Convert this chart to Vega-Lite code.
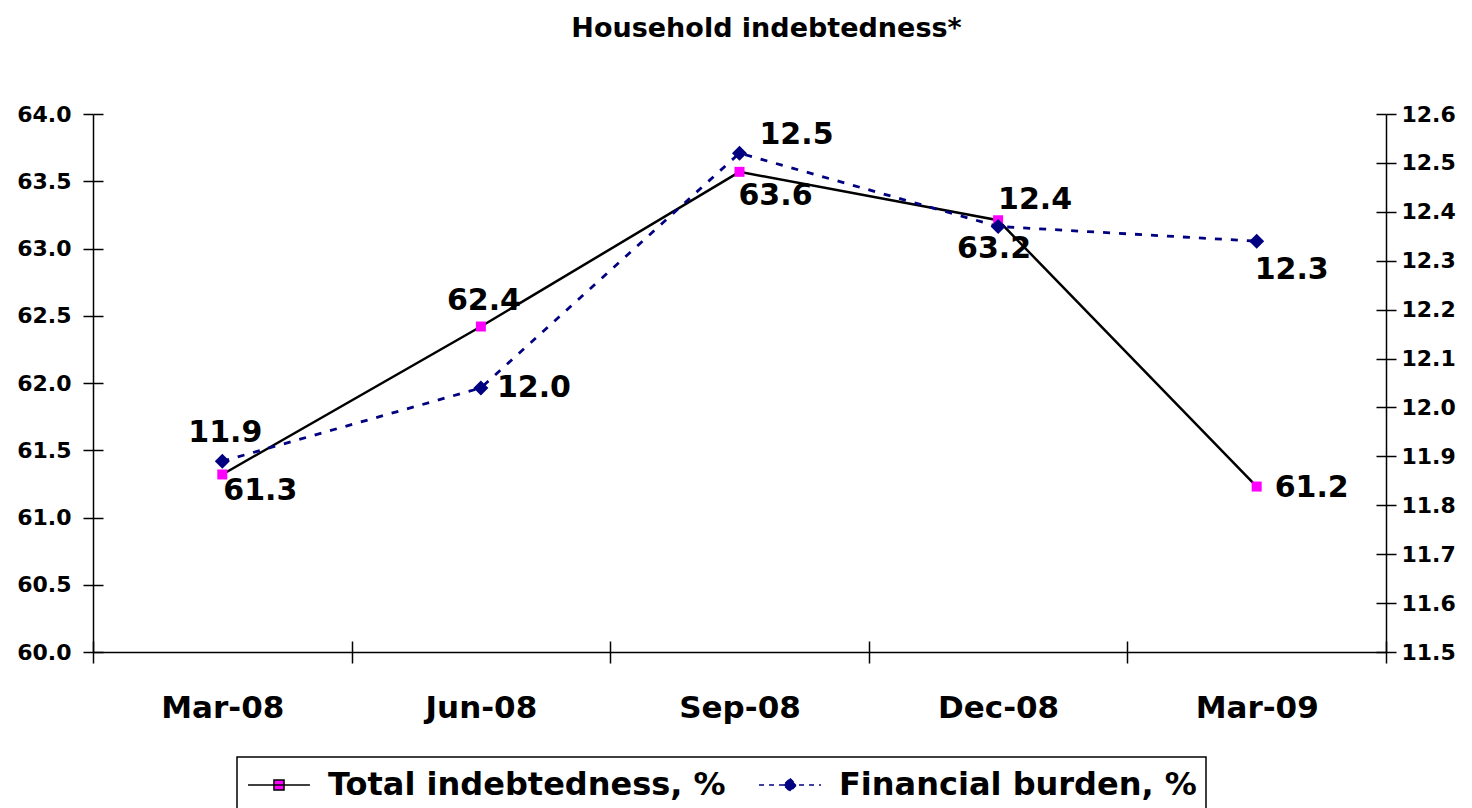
{
  "$schema": "https://vega.github.io/schema/vega-lite/v6.json",
  "width": 1293,
  "height": 538,
  "autosize": {"type": "none"},
  "padding": {"left": 93, "top": 114, "right": 86, "bottom": 156},
  "background": "white",
  "config": {
    "font": "DejaVu Sans",
    "view": {"stroke": null},
    "axis": {
      "grid": false,
      "domainColor": "black",
      "tickColor": "black",
      "labelColor": "black",
      "labelFont": "DejaVu Sans",
      "labelFontWeight": "bold",
      "domainWidth": 1.5,
      "tickWidth": 1.5
    },
    "text": {"font": "DejaVu Sans", "fontSize": 30, "fontWeight": "bold", "baseline": "middle", "color": "black"}
  },
  "title": {
    "text": "Household indebtedness*",
    "font": "DejaVu Sans",
    "fontSize": 27,
    "fontWeight": "bold",
    "color": "black",
    "anchor": "middle",
    "frame": "group",
    "baseline": "alphabetic",
    "dx": 27,
    "offset": 39
  },
  "data": {
    "values": [
      {"quarter": "Mar-08", "series": "Total indebtedness, %", "value": 61.32},
      {"quarter": "Jun-08", "series": "Total indebtedness, %", "value": 62.42},
      {"quarter": "Sep-08", "series": "Total indebtedness, %", "value": 63.57},
      {"quarter": "Dec-08", "series": "Total indebtedness, %", "value": 63.21},
      {"quarter": "Mar-09", "series": "Total indebtedness, %", "value": 61.23},
      {"quarter": "Mar-08", "series": "Financial burden, %", "value": 11.89},
      {"quarter": "Jun-08", "series": "Financial burden, %", "value": 12.04},
      {"quarter": "Sep-08", "series": "Financial burden, %", "value": 12.52},
      {"quarter": "Dec-08", "series": "Financial burden, %", "value": 12.37},
      {"quarter": "Mar-09", "series": "Financial burden, %", "value": 12.34}
    ]
  },
  "encoding": {
    "x": {
      "field": "quarter",
      "type": "ordinal",
      "sort": ["Mar-08", "Jun-08", "Sep-08", "Dec-08", "Mar-09"],
      "bandPosition": 0.5,
      "scale": {"type": "band", "paddingInner": 0, "paddingOuter": 0},
      "axis": null
    }
  },
  "layer": [
    {
      "transform": [{"filter": "datum.series === 'Total indebtedness, %'"}],
      "mark": {"type": "line", "strokeWidth": 2.5},
      "encoding": {
        "x": {
          "field": "quarter",
          "type": "ordinal",
          "sort": ["Mar-08", "Jun-08", "Sep-08", "Dec-08", "Mar-09"],
          "bandPosition": 0.5,
          "scale": {"type": "band", "paddingInner": 0, "paddingOuter": 0},
          "axis": {
            "orient": "bottom",
            "title": null,
            "tickBand": "extent",
            "tickSize": 11,
            "labelPadding": 30,
            "labelFontSize": 31,
            "labelAngle": 0
          }
        },
        "y": {
          "field": "value",
          "type": "quantitative",
          "scale": {"domain": [60, 64], "nice": false, "zero": false},
          "axis": {
            "orient": "left",
            "title": null,
            "values": [60, 60.5, 61, 61.5, 62, 62.5, 63, 63.5, 64],
            "format": ".1f",
            "tickSize": 10,
            "labelPadding": 12,
            "labelFontSize": 22
          }
        },
        "color": {
          "field": "series",
          "type": "nominal",
          "scale": {"domain": ["Total indebtedness, %", "Financial burden, %"], "range": ["#000000", "#000080"]},
          "legend": {
            "title": null,
            "orient": "none",
            "legendX": 144,
            "legendY": 643,
            "direction": "horizontal",
            "labelFont": "DejaVu Sans",
            "labelFontSize": 32,
            "labelFontWeight": "bold",
            "labelColor": "black",
            "labelLimit": 600,
            "symbolSize": 1296,
            "symbolOffset": 14,
            "labelOffset": 30,
            "columnPadding": 30,
            "padding": 9,
            "strokeColor": "black",
            "encode": {
              "legend": {"update": {"strokeWidth": {"value": 1.5}}},
              "symbols": {
                "update": {
                  "shape": {"signal": "datum.value === 'Total indebtedness, %' ? 'M-1.72,0H1.72M-0.28,-0.28H0.28V0.28H-0.28Z' : 'M-1.72,0H1.72M0,-0.36L0.36,0L0,0.36L-0.36,0Z'"},
                  "fill": {"signal": "datum.value === 'Total indebtedness, %' ? '#ff00ff' : '#000080'"},
                  "stroke": {"signal": "datum.value === 'Total indebtedness, %' ? '#000000' : '#000080'"},
                  "strokeDash": {"signal": "datum.value === 'Total indebtedness, %' ? [1, 0] : [5, 5]"},
                  "strokeWidth": {"value": 1.5},
                  "opacity": {"value": 1}
                }
              }
            }
          }
        }
      }
    },
    {
      "transform": [{"filter": "datum.series === 'Financial burden, %'"}],
      "mark": {"type": "line", "color": "#000080", "strokeWidth": 2.8, "strokeDash": [7, 9]},
      "encoding": {
        "x": {
          "field": "quarter",
          "type": "ordinal",
          "sort": ["Mar-08", "Jun-08", "Sep-08", "Dec-08", "Mar-09"],
          "bandPosition": 0.5,
          "scale": {"type": "band", "paddingInner": 0, "paddingOuter": 0},
          "axis": {
            "orient": "bottom",
            "title": null,
            "tickBand": "extent",
            "tickSize": -11,
            "labels": false,
            "domain": false
          }
        },
        "y": {
          "field": "value",
          "type": "quantitative",
          "scale": {"domain": [11.5, 12.6], "nice": false, "zero": false},
          "axis": {
            "orient": "right",
            "title": null,
            "values": [11.5, 11.6, 11.7, 11.8, 11.9, 12.0, 12.1, 12.2, 12.3, 12.4, 12.5, 12.6],
            "format": ".1f",
            "tickSize": 10,
            "labelPadding": 5,
            "labelFontSize": 22
          }
        }
      }
    },
    {
      "transform": [{"filter": "datum.series === 'Total indebtedness, %'"}],
      "mark": {"type": "point", "shape": "square", "size": 100, "filled": true, "color": "#ff00ff", "opacity": 1},
      "encoding": {
        "y": {
          "field": "value",
          "type": "quantitative",
          "scale": {"domain": [60, 64], "nice": false, "zero": false},
          "axis": {
            "orient": "left",
            "title": null,
            "values": [60, 60.5, 61, 61.5, 62, 62.5, 63, 63.5, 64],
            "tickSize": -10,
            "labels": false,
            "domain": false
          }
        }
      }
    },
    {
      "transform": [{"filter": "datum.series === 'Financial burden, %'"}],
      "mark": {"type": "point", "shape": "diamond", "size": 225, "filled": true, "color": "#000080", "opacity": 1},
      "encoding": {
        "y": {
          "field": "value",
          "type": "quantitative",
          "scale": {"domain": [11.5, 12.6], "nice": false, "zero": false},
          "axis": {
            "orient": "right",
            "title": null,
            "values": [11.5, 11.6, 11.7, 11.8, 11.9, 12.0, 12.1, 12.2, 12.3, 12.4, 12.5, 12.6],
            "tickSize": -10,
            "labels": false,
            "domain": false
          }
        }
      }
    },
    {
      "transform": [{"filter": "datum.series === 'Total indebtedness, %' && datum.quarter === 'Mar-08'"}],
      "mark": {"type": "text", "align": "left", "dx": 1, "dy": 17},
      "encoding": {
        "y": {"field": "value", "type": "quantitative", "scale": {"domain": [60, 64], "nice": false, "zero": false}, "axis": null},
        "text": {"field": "value", "type": "quantitative", "format": ".1f"}
      }
    },
    {
      "transform": [{"filter": "datum.series === 'Total indebtedness, %' && datum.quarter === 'Jun-08'"}],
      "mark": {"type": "text", "align": "center", "dx": 3, "dy": -26},
      "encoding": {
        "y": {"field": "value", "type": "quantitative", "scale": {"domain": [60, 64], "nice": false, "zero": false}, "axis": null},
        "text": {"field": "value", "type": "quantitative", "format": ".1f"}
      }
    },
    {
      "transform": [{"filter": "datum.series === 'Total indebtedness, %' && datum.quarter === 'Sep-08'"}],
      "mark": {"type": "text", "align": "left", "dx": -1, "dy": 24},
      "encoding": {
        "y": {"field": "value", "type": "quantitative", "scale": {"domain": [60, 64], "nice": false, "zero": false}, "axis": null},
        "text": {"field": "value", "type": "quantitative", "format": ".1f"}
      }
    },
    {
      "transform": [{"filter": "datum.series === 'Total indebtedness, %' && datum.quarter === 'Dec-08'"}],
      "mark": {"type": "text", "align": "center", "dx": -4, "dy": 29},
      "encoding": {
        "y": {"field": "value", "type": "quantitative", "scale": {"domain": [60, 64], "nice": false, "zero": false}, "axis": null},
        "text": {"field": "value", "type": "quantitative", "format": ".1f"}
      }
    },
    {
      "transform": [{"filter": "datum.series === 'Total indebtedness, %' && datum.quarter === 'Mar-09'"}],
      "mark": {"type": "text", "align": "left", "dx": 18, "dy": 1},
      "encoding": {
        "y": {"field": "value", "type": "quantitative", "scale": {"domain": [60, 64], "nice": false, "zero": false}, "axis": null},
        "text": {"field": "value", "type": "quantitative", "format": ".1f"}
      }
    },
    {
      "transform": [{"filter": "datum.series === 'Financial burden, %' && datum.quarter === 'Mar-08'"}],
      "mark": {"type": "text", "align": "center", "dx": 3, "dy": -28},
      "encoding": {
        "y": {"field": "value", "type": "quantitative", "scale": {"domain": [11.5, 12.6], "nice": false, "zero": false}, "axis": null},
        "text": {"field": "value", "type": "quantitative", "format": ".1f"}
      }
    },
    {
      "transform": [{"filter": "datum.series === 'Financial burden, %' && datum.quarter === 'Jun-08'"}],
      "mark": {"type": "text", "align": "left", "dx": 16, "dy": 0},
      "encoding": {
        "y": {"field": "value", "type": "quantitative", "scale": {"domain": [11.5, 12.6], "nice": false, "zero": false}, "axis": null},
        "text": {"field": "value", "type": "quantitative", "format": ".1f"}
      }
    },
    {
      "transform": [{"filter": "datum.series === 'Financial burden, %' && datum.quarter === 'Sep-08'"}],
      "mark": {"type": "text", "align": "left", "dx": 20, "dy": -18},
      "encoding": {
        "y": {"field": "value", "type": "quantitative", "scale": {"domain": [11.5, 12.6], "nice": false, "zero": false}, "axis": null},
        "text": {"field": "value", "type": "quantitative", "format": ".1f"}
      }
    },
    {
      "transform": [{"filter": "datum.series === 'Financial burden, %' && datum.quarter === 'Dec-08'"}],
      "mark": {"type": "text", "align": "left", "dx": 0, "dy": -26},
      "encoding": {
        "y": {"field": "value", "type": "quantitative", "scale": {"domain": [11.5, 12.6], "nice": false, "zero": false}, "axis": null},
        "text": {"field": "value", "type": "quantitative", "format": ".1f"}
      }
    },
    {
      "transform": [{"filter": "datum.series === 'Financial burden, %' && datum.quarter === 'Mar-09'"}],
      "mark": {"type": "text", "align": "left", "dx": -2, "dy": 29},
      "encoding": {
        "y": {"field": "value", "type": "quantitative", "scale": {"domain": [11.5, 12.6], "nice": false, "zero": false}, "axis": null},
        "text": {"field": "value", "type": "quantitative", "format": ".1f"}
      }
    }
  ],
  "resolve": {
    "scale": {"y": "independent"},
    "axis": {"x": "independent", "y": "independent"}
  }
}
